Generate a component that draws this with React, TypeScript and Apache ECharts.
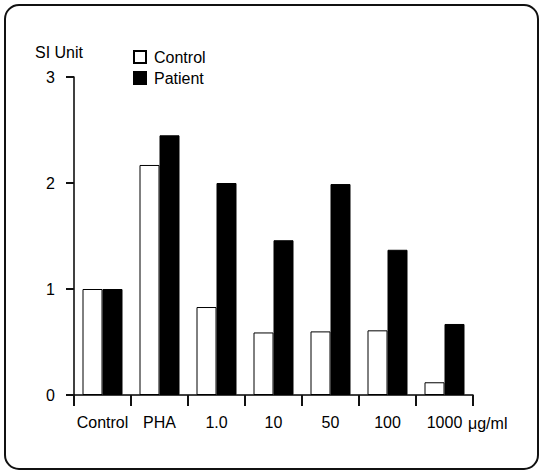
import React, { useEffect, useRef } from "react";
import * as echarts from "echarts";

const categories = ["Control", "PHA", "1.0", "10", "50", "100", "1000"];
const controlValues = [1.0, 2.17, 0.83, 0.59, 0.6, 0.61, 0.12];
const patientValues = [1.0, 2.45, 2.0, 1.46, 1.99, 1.37, 0.67];
const seriesNames = ["Control", "Patient"];

const FONT = "Liberation Sans";
const FS = 16;

export default function App() {
  const ref = useRef<HTMLDivElement>(null);
  useEffect(() => {
    const chart = echarts.init(ref.current!, null, { renderer: "svg" });
    chart.setOption({
      animation: false,
      backgroundColor: "#fff",
      textStyle: { fontFamily: FONT, color: "#000" },
      graphic: [
        {
          type: "rect",
          shape: { x: 5, y: 5, width: 533, height: 464, r: 14 },
          style: { fill: "none", stroke: "#111", lineWidth: 2 },
        },
        {
          type: "text",
          left: 35,
          top: 44,
          style: { text: "SI Unit", font: `${FS}px ${FONT}`, fill: "#000" },
        },
        {
          type: "text",
          left: 468,
          top: 415,
          style: { text: "μg/ml", font: `${FS}px ${FONT}`, fill: "#000" },
        },
      ],
      legend: {
        orient: "vertical",
        left: 128,
        top: 44,
        icon: "rect",
        itemWidth: 12,
        itemHeight: 12,
        itemGap: 5,
        textStyle: { fontSize: FS, color: "#000", padding: [0, 0, 0, 3] },
        data: seriesNames,
      },
      grid: { left: 74, right: 69, top: 77, bottom: 81 },
      xAxis: {
        type: "category",
        data: categories,
        axisLine: { show: true, lineStyle: { color: "#000", width: 1.5 } },
        axisTick: { show: true, interval: 0, length: 11, lineStyle: { color: "#111", width: 2 } },
        axisLabel: { interval: 0, fontSize: FS, color: "#000", padding: [11, 0, 0, 0] },
      },
      yAxis: {
        type: "value",
        min: 0,
        max: 3,
        interval: 1,
        splitLine: { show: false },
        axisLine: { show: true, lineStyle: { color: "#000", width: 1.5 } },
        axisTick: { show: true, length: 8, lineStyle: { color: "#111", width: 2 } },
        axisLabel: { fontSize: FS, color: "#000", padding: [0, 11, 0, 0] },
      },
      series: [
        {
          name: seriesNames[0],
          type: "bar",
          data: controlValues,
          barWidth: 20,
          barGap: "0%",
          itemStyle: { color: "#fff", borderColor: "#000", borderWidth: 1 },
        },
        {
          name: seriesNames[1],
          type: "bar",
          data: patientValues,
          barWidth: 20,
          barGap: "0%",
          itemStyle: { color: "#000", borderColor: "#000", borderWidth: 1 },
        },
      ],
    });
    return () => chart.dispose();
  }, []);
  return <div ref={ref} style={{ width: 542, height: 476, position: "absolute", left: 0, top: 0 }} />;
}
